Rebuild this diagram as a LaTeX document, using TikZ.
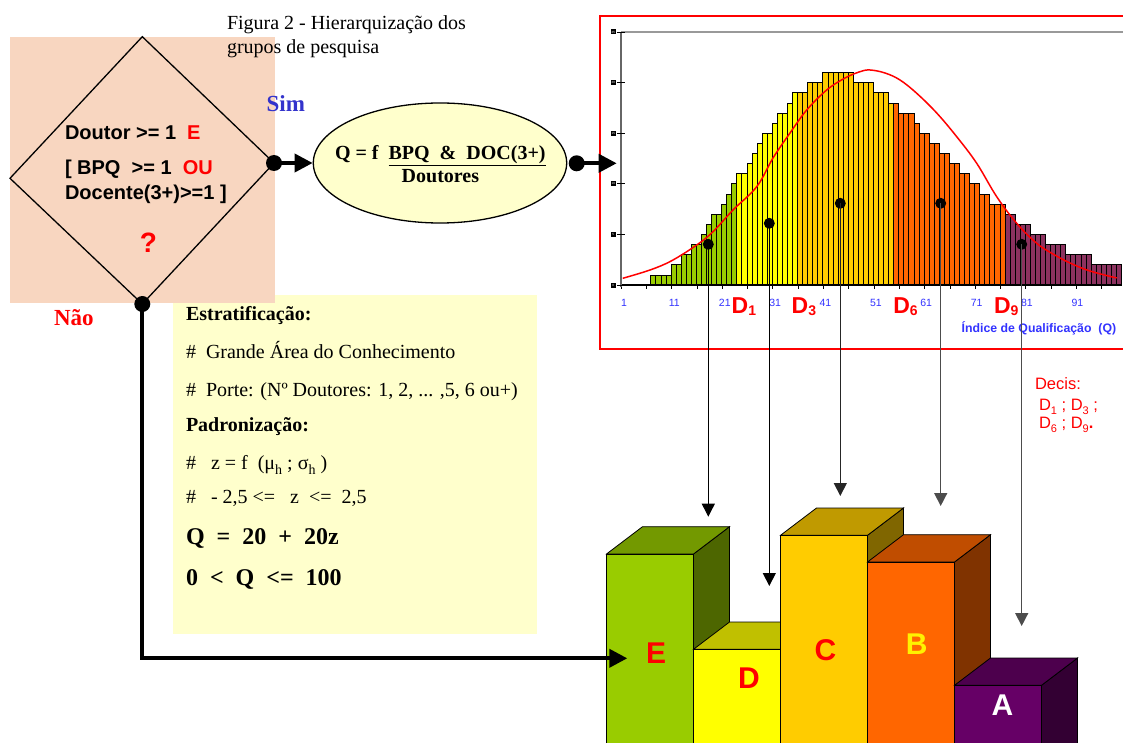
\documentclass[tikz,border=0pt]{standalone}
\usepackage{fontspec}
\setmainfont{Liberation Serif}
\newfontfamily\arial{Liberation Sans}
\usetikzlibrary{shapes.geometric,arrows.meta}
\definecolor{peach}{RGB}{248,214,192}
\definecolor{lightyel}{RGB}{255,255,204}
\definecolor{simblue}{RGB}{51,51,204}
\definecolor{axblue}{RGB}{51,51,255}
\definecolor{hgreen}{RGB}{153,204,0}
\definecolor{hyellow}{RGB}{255,255,0}
\definecolor{hgold}{RGB}{255,204,0}
\definecolor{horange}{RGB}{255,102,0}
\definecolor{hpurple}{RGB}{140,50,95}
\definecolor{eF}{RGB}{153,204,0}\definecolor{eT}{RGB}{115,153,0}\definecolor{eS}{RGB}{77,102,0}
\definecolor{dF}{RGB}{255,255,0}\definecolor{dT}{RGB}{192,192,0}\definecolor{dS}{RGB}{128,128,0}
\definecolor{cF}{RGB}{255,204,0}\definecolor{cT}{RGB}{192,154,0}\definecolor{cS}{RGB}{128,102,0}
\definecolor{bF}{RGB}{255,102,0}\definecolor{bT}{RGB}{192,77,0}\definecolor{bS}{RGB}{128,51,0}
\definecolor{aF}{RGB}{102,0,102}\definecolor{aT}{RGB}{77,0,77}\definecolor{aS}{RGB}{51,0,51}
\newcommand{\hbars}[3]{%
  \foreach \h [count=\i from #1] in {#3} {%
    \filldraw[fill=#2,draw=black,line width=0.6pt] ({650.7+\i*5.06},285) rectangle ++(5.06,{-\h*10.12});
  }}
\newcommand{\tdbar}[5]{% x0, top, front, topcol, side
  \filldraw[draw=black,line width=0.8pt,fill=#5] (#1+87,#2) -- ++(36,-27.3) -- ++(0,400) -- ++(-36,27.3) -- cycle;
  \filldraw[draw=black,line width=0.8pt,fill=#4] (#1,#2) -- ++(36,-27.3) -- ++(87,0) -- ++(-36,27.3) -- cycle;
  \filldraw[draw=black,line width=0.8pt,fill=#3] (#1,#2) rectangle ++(87,300);
}
\newcommand{\dsub}[1]{{\fontsize{14}{14}\selectfont\raisebox{-2.6pt}{#1}}}
\newcommand{\decsub}[1]{{\fontsize{11}{11}\selectfont\raisebox{-4pt}{#1}}}
\newcommand{\hsub}[1]{{\fontsize{14}{14}\selectfont\raisebox{-5pt}{#1}}}
\begin{document}
\begin{tikzpicture}[x=1pt,y=-1pt,
  txt/.style={inner sep=0pt,outer sep=0pt,anchor=base west},
  dot/.style={circle,fill=black,inner sep=0pt,minimum size=16pt},
  cdot/.style={circle,fill=black,inner sep=0pt,minimum size=11pt},
  conn/.style={line width=3.8pt,-{Triangle[length=18pt,width=18pt]}},
  dline/.style={line width=1pt,-{Triangle[length=13pt,width=13pt]}},
  xlab/.style={inner sep=0pt,font=\arial\fontsize{10.5}{10.5}\selectfont,text=axblue},
  ylab/.style={inner sep=0pt,fill=black,text=white,minimum size=5pt,font=\arial\fontsize{3}{3}\selectfont},
  dlab/.style={txt,font=\arial\bfseries\fontsize{23}{23}\selectfont,text=red},
  barl/.style={inner sep=0pt,font=\arial\bfseries\fontsize{30}{30}\selectfont},
  ytxt/.style={txt,font=\fontsize{20}{24}\selectfont},
  ybold/.style={txt,font=\bfseries\fontsize{20}{24}\selectfont},
  ybig/.style={txt,font=\bfseries\fontsize{24}{28}\selectfont},
  dtxt/.style={txt,font=\arial\bfseries\fontsize{20}{24}\selectfont}
]
\clip (0,0) rectangle (1123,743);
\fill[white] (0,0) rectangle (1123,743);

% yellow box and peach background
\fill[lightyel] (173,295) rectangle (537,634);
\fill[peach] (10,36.7) rectangle (275,302.7);

% diamond
\coordinate (vT) at (142.3,36.7);
\coordinate (vR) at (274,163);
\coordinate (vB) at (142.3,304);
\coordinate (vL) at (10,178.3);
\draw[line width=1.3pt] (vT) -- (vR) -- (vB) -- (vL) -- cycle;

% title
\node[ytxt] (tit1) at (227,30) {Figura 2 - Hierarquização dos};
\node[ytxt] (tit2) at (227,53.3) {grupos de pesquisa};

% diamond text
\node[dtxt] (q1) at (65,139.3) {Doutor >= 1\ \ \textcolor{red}{E}};
\node[dtxt] (q2) at (65,175) {[ BPQ\ \ >= 1\ \ \textcolor{red}{OU}};
\node[dtxt] (q3) at (65,200) {Docente(3+)>=1 ]};
\node[inner sep=0pt,anchor=base,font=\arial\bfseries\fontsize{28}{28}\selectfont,text=red] (qm) at (148.3,252.7) {?};
\node[txt,font=\bfseries\fontsize{23}{23}\selectfont,text=simblue] (sim) at (266.7,111.7) {Sim};
\node[txt,font=\bfseries\fontsize{23}{23}\selectfont,text=red] (nao) at (54,325) {Não};

% ellipse
\node[ellipse,draw,line width=1.3pt,fill=lightyel,minimum width=253.4pt,minimum height=120pt,inner sep=0pt] (ell) at (440,163) {};
\node[txt,font=\bfseries\fontsize{20}{24}\selectfont] (ef) at (335,159.3) {Q = f\ \ \underline{BPQ\ \ \&\ \ DOC(3+)}};
\node[txt,font=\bfseries\fontsize{20}{24}\selectfont] (ed) at (401.7,182.7) {Doutores};

% yellow box text
\node[ybold] (y1) at (186,320.7) {Estratificação:};
\node[ytxt] (y2) at (186,358.3) {\#\ \ Grande Área do Conhecimento};
\node[ytxt] (y3) at (186,396) {\#\ \ Porte: (Nº Doutores: 1, 2, ... ,5, 6 ou+)};
\node[ybold] (y4) at (186,431.7) {Padronização:};
\node[ytxt] (y5) at (186,469.3) {\#\ \ \ z = f\ \ (μ\hsub{h} ; σ\hsub{h} )};
\node[ytxt] (y6) at (186,503.3) {\#\ \ \ - 2,5 <=\ \ \ z\ \ <=\ \ 2,5};
\node[ybig] (y7) at (186,544) {Q\ \ =\ \ 20\ \ +\ \ 20z};
\node[ybig] (y8) at (186,585) {0\ \ <\ \ Q\ \ <=\ \ 100};

% ===== chart =====
\draw[red,line width=2pt] (600,15.7) rectangle (1135,349);
\draw[black!40,line width=1.2pt] (621,32) -- (1135,32);
\hbars{0}{hgreen}{1,1,1,1,2,2,3,3,4,4,5,6,7,7,8,9,10}
\hbars{17}{hyellow}{11,11,12,13,14,15,15,16,17,17,18,19}
\hbars{29}{hgold}{19,19,20,20,20,21,21,21,21,21,21,20,20,20,20,19,19,19,18}
\hbars{48}{horange}{18,17,17,17,16,15,15,14,14,13,13,12,12,11,11,10,10,9,9,8,8,8}
\hbars{70}{hpurple}{7,7,6,6,6,5,5,5,4,4,4,4,3,3,3,3,3,2,2,2,2,2,2}
\draw[black,line width=1.3pt] (621,285) -- (1122,285);
\foreach \k in {0,...,20} \draw[black,line width=0.8pt] ({621+\k*25.3},285) -- ++(0,4);
\draw[black!60,line width=2.2pt] (621,32) -- (621,287);
\foreach \v in {0,5,...,25} {
  \draw[black,line width=0.8pt] (617,{285-\v*10.12}) -- (625,{285-\v*10.12});
  \node[ylab] (yl\v) at (613.3,{285-\v*10.12}) {\v};
}
\foreach \v [count=\k from 0] in {1,11,21,31,41,51,61,71,81,91}
  \node[xlab] (xl\k) at ({624+\k*50.37},303.3) {\v};
\draw[red,line width=1.5pt] plot[smooth,tension=0.6] coordinates {
 (622.7,278.3) (650,270) (671.7,260.7) (696.7,245) (713,231.7) (733,210) (756.7,186.7)
 (773,158) (790,133) (806.7,110) (826.7,90) (845,78) (860,71.7) (870,70) (885,73)
 (900,80) (916.7,93.3) (936.7,113) (956.7,136.7) (976.7,163.3) (996.7,196.7)
 (1016.7,223.3) (1036.7,243.3) (1053,254) (1070,263) (1090,271) (1116.7,278)};
\node[dlab] (D1) at (731.7,313.3) {D\dsub{1}};
\node[dlab] (D3) at (791.7,313.3) {D\dsub{3}};
\node[dlab] (D6) at (893.3,313.3) {D\dsub{6}};
\node[dlab] (D9) at (994,313.3) {D\dsub{9}};
\node[txt,font=\arial\bfseries\fontsize{12.3}{12.3}\selectfont,text=axblue] (idx) at (961.7,332) {Índice de Qualificação\ \ (Q)};

% chart dots and decile lines
\node[cdot] (c1) at (708.3,244.3) {};
\node[cdot] (c3) at (769.3,223.3) {};
\node[cdot] (c4) at (840.3,203.3) {};
\node[cdot] (c6) at (940.7,203.3) {};
\node[cdot] (c9) at (1021.7,244.3) {};
\coordinate (a1) at (708.3,516.7);
\coordinate (a3) at (769.3,586);
\coordinate (a4) at (840.3,496);
\coordinate (a6) at (940.7,506);
\coordinate (a9) at (1021.7,626);
\draw[dline] (c1.center) -- (a1);
\draw[dline] (c3.center) -- (a3);
\draw[dline,black!85] (c4.center) -- (a4);
\draw[dline,black!70,line width=1.5pt] (c6.center) -- (a6);
\draw[dline,black!70,line width=1.5pt] (c9.center) -- (a9);

% 3D bars
\tdbar{606.5}{554}{eF}{eT}{eS}
\tdbar{693.5}{649.3}{dF}{dT}{dS}
\tdbar{780.5}{535.3}{cF}{cT}{cS}
\tdbar{867.5}{562}{bF}{bT}{bS}
\tdbar{954.5}{685.3}{aF}{aT}{aS}
\node[barl,text=red] (lE) at (656,653) {E};
\node[barl,text=red] (lD) at (749,678) {D};
\node[barl,text=red] (lC) at (825.5,650) {C};
\node[barl,text=yellow] (lB) at (916.7,644) {B};
\node[barl,text=white] (lA) at (1002.5,705) {A};

% main connectors
\node[dot] (dR) at (vR) {};
\node[dot] (dB) at (vB) {};
\node[dot] (eR) at (576.7,163.3) {};
\coordinate (chartin) at (616.7,163.3);
\coordinate (barin) at (627.3,658.3);
\draw[conn] (dR.center) -- (ell.west);
\draw[conn] (eR.center) -- (chartin);
\draw[conn] (dB.center) |- (barin);

% decis text
\node[txt,font=\arial\fontsize{16.5}{16.5}\selectfont,text=red] (dc1) at (1035,389) {Decis:};
\node[txt,font=\arial\fontsize{16.5}{16.5}\selectfont,text=red] (dc2) at (1039,410) {D\decsub{1} ; D\decsub{3} ;};
\node[txt,font=\arial\fontsize{16.5}{16.5}\selectfont,text=red] (dc3) at (1039,428) {D\decsub{6} ; D\decsub{9}\textbf{.}};
\end{tikzpicture}
\end{document}
